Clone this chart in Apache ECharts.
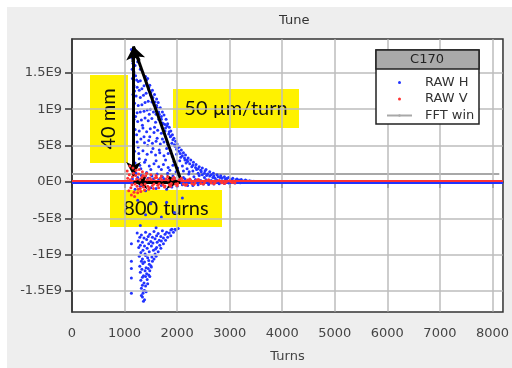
<!DOCTYPE html>
<html>
<head>
<meta charset="utf-8">
<script src="https://cdn.jsdelivr.net/npm/echarts@6/dist/echarts.min.js"></script>
<style>
  html, body { margin: 0; padding: 0; background: #fff; }
  #chart { width: 512px; height: 368px; }
</style>
</head>
<body>
<div id="chart"></div>
<script>
// x ticks (turns) and y ticks with the labels as printed on the plot
const xTicks = [0, 1000, 2000, 3000, 4000, 5000, 6000, 7000, 8000];
const yTicks = [-1.5e9, -1e9, -5e8, 0, 5e8, 1e9, 1.5e9];
const yTickLabels = ['-1.5E9', '-1E9', '-5E8', '0E0', '5E8', '1E9', '1.5E9'];
const xRange = [0, 8200];
const yRange = [-1.787e9, 1.964e9];

// RAW H samples [turn, value in units of 1E8]
const rawH = [
    // upper cloud
    [1130,18.2],[1140,17.6],[1150,17.0],[1160,16.3],[1145,15.5],[1170,15.8],[1190,15.0],[1210,14.6],
    [1150,14.2],[1230,14.0],[1260,13.8],[1300,13.9],[1180,13.2],[1240,13.0],[1280,12.6],[1330,12.8],
    [1370,13.2],[1420,13.5],[1160,12.0],[1220,11.8],[1300,11.6],[1360,11.9],[1410,12.2],[1460,12.7],
    [1500,11.9],[1190,10.8],[1260,10.5],[1330,10.6],[1390,10.9],[1450,11.1],[1520,11.0],[1560,10.6],
    [1610,10.5],[1170,9.8],[1240,9.5],[1300,9.6],[1370,9.7],[1430,9.9],[1490,10.0],[1550,9.6],
    [1600,9.3],[1650,9.6],[1700,9.0],
    [1180,8.6],[1250,8.3],[1320,8.5],[1390,8.8],[1450,8.4],[1520,8.7],[1590,8.2],[1650,8.6],[1720,8.1],[1770,7.9],
    [1200,7.2],[1280,7.0],[1350,7.4],[1420,6.9],[1490,7.3],[1560,6.8],[1630,7.1],[1700,6.7],[1770,7.0],[1840,6.6],[1880,6.3],
    [1170,5.8],[1240,5.5],[1310,5.9],[1380,5.4],[1460,5.7],[1530,5.3],[1600,5.6],[1680,5.2],[1750,5.5],[1820,5.1],
    [1900,5.3],[1960,4.9],[2010,4.7],
    [1190,4.2],[1270,3.9],[1350,4.3],[1430,3.8],[1510,4.1],[1590,3.7],[1670,4.0],[1750,3.6],[1830,3.9],[1910,3.5],
    [1990,3.8],[2070,3.4],[2140,3.3],[2190,3.0],
    [1200,2.6],[1290,2.3],[1380,2.7],[1470,2.2],[1560,2.5],[1650,2.1],[1740,2.4],[1830,2.0],[1920,2.3],[2010,1.9],
    [2100,2.2],[2190,1.8],[2280,2.1],[2370,1.7],[2450,1.6],[2530,1.5],
    [1220,1.2],[1320,0.9],[1420,1.3],[1520,0.8],[1620,1.1],[1720,0.7],[1820,1.2],[1920,0.8],[2020,1.0],[2120,0.6],
    [2220,1.1],[2320,0.7],[2420,0.9],[2520,0.6],[2620,0.8],[2720,0.5],[2820,0.6],[2920,0.4],[3020,0.35],[3120,0.3],
    [3220,0.2],[3320,0.15],[3420,0.1],
    // dense band along the decaying edge
    [1250,16.5],[1300,15.5],[1350,15.0],[1400,14.5],[1440,14.2],[1480,13.3],[1530,12.6],[1570,12.0],[1610,11.4],
    [1640,10.9],[1680,10.2],[1720,9.6],[1750,9.2],[1790,8.6],[1820,8.0],[1850,7.5],[1880,7.0],[1910,6.5],[1940,6.0],
    [1970,5.6],[2000,5.2],[2040,4.8],[2080,4.4],[2120,4.0],[2160,3.7],[2210,3.3],[2260,3.0],[2310,2.7],[2360,2.4],
    [2420,2.1],[2480,1.9],[2550,1.7],[2620,1.4],[2690,1.2],[2760,1.0],[2830,0.85],[2900,0.7],[2980,0.6],[3060,0.5],
    [3140,0.4],[3220,0.32],[3300,0.25],[3380,0.18],[3460,0.1],
    [1420,14.0],[1460,13.0],[1500,12.3],[1540,11.6],[1580,11.0],[1620,10.2],[1660,9.3],[1700,8.6],[1740,8.0],
    [1780,7.4],[1810,7.7],[1850,6.9],[1870,6.2],[1920,5.8],[1950,5.1],[1990,4.5],[2030,4.2],[2060,3.9],[2100,3.6],
    [2150,3.0],[2200,2.8],[2240,2.5],[2300,2.3],[2350,2.0],[2400,1.8],[2460,1.4],[2520,1.2],[2580,1.1],[2650,1.0],
    [2700,0.8],[2780,0.7],[2860,0.55],[2950,0.5],[3040,0.3],[3180,0.25],[3260,0.12],[3350,0.08],
    // low band just above zero
    [1150,0.4],[1250,0.6],[1350,0.3],[1450,0.5],[1550,0.4],[1650,0.3],[1750,0.45],[1850,0.3],[1950,0.5],[2050,0.25],
    [2150,0.4],[2250,0.3],[2350,0.35],[2450,0.2],[2550,0.3],[2650,0.2],[2750,0.25],[2850,0.15],[2950,0.2],[3050,0.12],
    [3150,0.1],[3250,0.05],[3350,0.05],[3450,0.04],[3550,0.03],
    // scattered inside the wedge
    [1200,16.0],[1190,12.5],[1210,9.0],[1230,6.5],[1260,4.8],[1280,3.2],[1310,1.8],[1340,7.8],[1370,6.2],[1400,3.0],
    [1440,5.0],[1470,9.3],[1480,6.2],[1500,1.7],[1540,4.6],[1570,7.5],[1600,2.9],[1620,6.0],[1660,4.4],[1700,1.7],
    [1720,5.9],[1780,3.0],[1800,4.6],[1860,1.6],[1880,4.3],[1940,2.8],[1980,1.4],[2050,2.9],[2120,1.5],[2170,2.6],
    [2230,1.4],[2300,1.5],[2400,1.2],[2480,1.0],[2560,0.9],[2680,0.6],
    // just below zero
    [1300,-0.6],[1500,-0.8],[1700,-0.5],[1900,-0.7],[2100,-0.4],[2300,-0.5],[2500,-0.3],[2700,-0.3],[2900,-0.2],[3100,-0.15],
    [1200,-1.0],[1400,-1.2],[1600,-0.9],[1800,-1.0],[2000,-0.6],[2200,-0.5],[2400,-0.4],[2600,-0.35],[2800,-0.25],
    [3000,-0.2],[3200,-0.1],[3350,-0.06],
    // lower cloud
    [1250,-2.5],[1500,-3.0],[1800,-2.8],[2100,-2.2],[1400,-4.5],[1700,-4.8],[1950,-4.2],[1300,-6.0],[1600,-6.3],[1900,-6.5],
    [1240,-7.0],[1320,-7.3],[1400,-6.9],[1480,-7.2],[1560,-6.8],[1640,-7.1],[1720,-6.7],[1800,-6.9],[1880,-6.6],[1960,-6.5],[2020,-6.4],
    [1290,-7.6],[1370,-7.7],[1450,-7.5],[1530,-7.6],[1610,-7.4],[1690,-7.5],[1770,-7.2],[1850,-7.0],[1930,-6.9],[1980,-6.6],
    [1260,-8.1],[1340,-8.3],[1420,-7.9],[1500,-8.2],[1580,-7.8],[1660,-8.0],[1740,-7.7],[1820,-7.6],[1880,-7.4],
    [1300,-8.7],[1380,-8.8],[1460,-8.5],[1540,-8.4],[1620,-8.3],[1700,-8.1],[1780,-8.0],
    [1130,-8.5],[1270,-9.0],[1350,-9.4],[1430,-9.1],[1510,-8.8],[1590,-9.2],[1670,-8.7],[1740,-8.5],
    [1310,-9.7],[1390,-9.9],[1470,-9.6],[1550,-9.4],[1610,-9.0],[1690,-9.1],
    [1280,-10.2],[1340,-10.6],[1400,-10.1],[1460,-10.8],[1520,-10.3],[1580,-9.9],[1640,-9.6],
    [1320,-10.9],[1380,-11.0],[1440,-10.4],[1500,-11.5],[1560,-10.6],[1600,-10.2],
    [1130,-10.9],[1290,-11.6],[1350,-11.2],[1410,-11.8],[1470,-11.3],[1530,-10.9],[1130,-11.9],
    [1330,-12.0],[1390,-12.2],[1450,-11.9],[1510,-11.7],
    [1300,-12.4],[1360,-12.9],[1420,-12.6],[1480,-12.2],
    [1340,-13.1],[1400,-13.0],[1460,-12.8],[1480,-13.0],
    [1130,-13.2],[1310,-13.5],[1370,-13.9],[1430,-13.4],
    [1340,-14.2],[1400,-14.3],[1440,-14.0],
    [1320,-14.6],[1380,-14.9],[1350,-15.3],
    [1360,-15.0],[1410,-15.1],[1320,-15.6],[1360,-16.4],
    [1130,-15.3],[1340,-15.8],[1380,-16.2]
];

// RAW V samples [turn, value in units of 1E8]
const rawV = [
    [1050,1.5],[1080,-1.2],[1100,2.2],[1130,-1.8],[1160,1.9],[1190,-2.0],[1220,1.6],[1250,-1.5],[1280,1.7],
    [1310,-1.3],[1340,1.4],[1380,-1.1],[1420,1.2],[1460,-1.0],[1500,1.0],[1550,-0.9],[1600,0.9],[1650,-0.8],
    [1700,0.8],[1760,-0.7],[1820,0.7],[1880,-0.6],[1940,0.6],[2000,-0.5],[2080,0.5],[2160,-0.45],[2240,0.4],
    [2320,-0.35],[2400,0.35],[2500,-0.3],[2600,0.3],[2700,-0.25],[2800,0.2],[2900,-0.2],[3000,0.15],[3100,-0.1],
    [1060,0.5],[1090,1.0],[1120,-0.8],[1150,0.7],[1180,-1.4],[1210,0.9],[1240,-0.6],[1270,1.1],[1300,-0.9],
    [1330,0.6],[1360,-0.7],[1400,0.8],[1440,-0.6],[1480,0.5],[1530,-0.5],[1580,0.55],[1630,-0.45],[1680,0.5],
    [1730,-0.4],[1790,0.4],[1850,-0.4],[1910,0.35],[1970,-0.3],[2040,0.3],[2120,-0.3],[2200,0.25],[2280,-0.2],
    [2360,0.2],[2450,-0.2],[2550,0.15],[2650,-0.15],[2750,0.12],[2850,-0.1],[2950,0.08],[3050,-0.06],
    [1110,0.3],[1140,-0.4],[1170,1.2],[1200,-0.3],[1230,0.4],[1260,-1.0],[1290,0.3],[1320,-0.4],[1350,0.9],
    [1390,-0.3],[1430,0.3],[1470,-0.8],[1510,0.3],[1560,-0.3],[1610,0.6],[1660,-0.25],[1710,0.25],[1770,-0.55],
    [1830,0.25],[1890,-0.2],[1950,0.45],[2010,-0.2],[2100,0.2],[2180,-0.35],[2260,0.15],[2340,-0.15],[2420,0.25],
    [2520,-0.1],[2620,0.1],[2720,-0.12],[2820,0.08],[2920,-0.08],[3020,0.05]
];

// flat offset of each raw trace over the whole record, and the FFT window level
const rawHFloor = -1.5e7;
const rawVFloor = 1.2e7;
const fftWin = [[0, 1.1e8], [8130, 1.1e8]];

// annotation arrows drawn on the slide, in data coordinates
const arrowVert = [[1170, 0.8e8], [1170, 1.86e9]];
const arrowDiag = [[2060, 0.05e9], [1170, 1.86e9]];
const arrowHorz = [[1170, 0], [2060, 0]];

const E8 = 1e8;
const axisFont = { fontFamily: 'DejaVu Sans', fontSize: 13, color: '#444' };

function yLabel(v) {
    const i = yTicks.findIndex(t => Math.abs(t - v) < 1);
    return i >= 0 ? yTickLabels[i] : '';
}

function yellowBox(x, y, w, h, text, rotate) {
    return {
        type: 'group',
        z: 100,
        children: [
            { type: 'rect', shape: { x: x, y: y, width: w, height: h }, style: { fill: '#fff200' } },
            {
                type: 'text',
                x: x + w / 2, y: y + h / 2,
                rotation: rotate ? Math.PI / 2 : 0,
                style: {
                    text: text, fill: '#111', font: '20px Lato',
                    align: 'center', verticalAlign: 'middle'
                }
            }
        ]
    };
}

// grid lines at each tick, as coordinate pairs just inside the plot edges
// (end points exactly on the edge get dropped by the marker filter)
const gridLines = xTicks.slice(1).map(v => [{ coord: [v, -1.78e9] }, { coord: [v, 1.96e9] }])
    .concat(yTicks.map(v => [{ coord: [5, v] }, { coord: [8195, v] }]));

const chart = echarts.init(document.getElementById('chart'), null, { renderer: 'canvas' });

chart.setOption({
    backgroundColor: '#ffffff',
    animation: false,
    title: {
        text: 'Tune',
        left: 274, top: 9,
        textStyle: { fontFamily: 'DejaVu Sans', fontSize: 13, fontWeight: 'normal', color: '#333' }
    },
    grid: {
        left: 72, right: 6, top: 39, bottom: 54,
        show: true, backgroundColor: '#ffffff', borderColor: '#333', borderWidth: 1.5
    },
    legend: {
        data: [
            { name: 'RAW H', icon: 'circle' },
            { name: 'RAW V', icon: 'circle' },
            { name: 'FFT win' }
        ],
        z: 60,
        orient: 'vertical',
        left: 381, top: 71,
        itemWidth: 25, itemHeight: 3, itemGap: 3.5,
        textStyle: { fontFamily: 'DejaVu Sans', fontSize: 13, color: '#333', padding: [0, 0, 0, 8] },
        selectedMode: false
    },
    xAxis: {
        type: 'value', min: xRange[0], max: xRange[1],
        name: 'Turns', nameLocation: 'middle', nameGap: 38,
        nameTextStyle: axisFont,
        axisLine: { lineStyle: { color: '#333', width: 1.5 } },
        axisTick: { length: 6, customValues: xTicks, lineStyle: { color: '#333', width: 1.5 } },
        axisLabel: Object.assign({ margin: 15, customValues: xTicks, formatter: v => String(v) }, axisFont),
        splitLine: { show: false }
    },
    yAxis: {
        type: 'value', min: yRange[0], max: yRange[1],
        axisLine: { show: true, lineStyle: { color: '#333', width: 1.5 } },
        axisTick: { show: true, length: 7, customValues: yTicks, lineStyle: { color: '#333', width: 1.5 } },
        axisLabel: Object.assign({ margin: 10, customValues: yTicks, formatter: yLabel }, axisFont),
        splitLine: { show: false }
    },
    graphic: [
        { type: 'rect', z: -10, silent: true, shape: { x: 7, y: 7, width: 505, height: 361 }, style: { fill: '#eeeeee' } },
        // legend frame and its header
        { type: 'rect', z: 50, shape: { x: 376, y: 50, width: 103, height: 74 }, style: { fill: '#ffffff', stroke: '#222', lineWidth: 1.5 } },
        { type: 'rect', z: 51, shape: { x: 376, y: 50, width: 103, height: 19 }, style: { fill: '#aaaaaa', stroke: '#222', lineWidth: 1.5 } },
        { type: 'text', z: 52, x: 427, y: 60, style: { text: 'C170', font: '13px "DejaVu Sans"', fill: '#222', align: 'center', verticalAlign: 'middle' } },
        yellowBox(90, 75, 38, 88, '40 mm', true),
        yellowBox(173, 89, 126, 39, '50 µm/turn', false),
        yellowBox(110, 190, 112, 37, '800 turns', false)
    ],
    series: [
        {
            name: 'gridlines', type: 'line', z: 3, data: [],
            markLine: {
                silent: true, label: { show: false }, symbol: 'none',
                lineStyle: { color: '#bdbdbd', width: 1.5, type: 'solid' },
                data: gridLines.map(p => [
                    { coord: p[0].coord, symbol: 'none' },
                    { coord: p[1].coord, symbol: 'none' }
                ])
            }
        },
        {
            name: 'FFT win', type: 'line', z: 3,
            data: fftWin, symbol: 'none',
            lineStyle: { color: '#a8a8a8', width: 2 }, itemStyle: { color: '#a8a8a8' }
        },
        {
            name: 'RAW H', type: 'scatter', z: 4,
            data: rawH.map(d => [d[0], d[1] * E8]),
            symbolSize: 3, itemStyle: { color: '#2233ff', opacity: 1 },
            markLine: {
                silent: true, symbol: 'none', label: { show: false },
                lineStyle: { color: '#2233ff', width: 2, type: 'solid' },
                data: [{ yAxis: rawHFloor }]
            }
        },
        {
            name: 'RAW V', type: 'scatter', z: 5,
            data: rawV.map(d => [d[0], d[1] * E8]),
            symbolSize: 3, itemStyle: { color: '#ff3333', opacity: 1 },
            markLine: {
                silent: true, symbol: 'none', label: { show: false },
                lineStyle: { color: '#ff3333', width: 2, type: 'solid' },
                data: [{ yAxis: rawVFloor }]
            }
        },
        {
            name: 'arrows', type: 'line', z: 20, data: [],
            markLine: {
                silent: true, label: { show: false }, symbolSize: [11, 14],
                lineStyle: { color: '#000', width: 3, type: 'solid' },
                data: [
                    [{ coord: arrowVert[0], symbol: 'arrow' }, { coord: arrowVert[1], symbol: 'arrow' }],
                    [{ coord: arrowDiag[0], symbol: 'none' }, { coord: arrowDiag[1], symbol: 'arrow' }],
                    [{ coord: arrowHorz[0], symbol: 'arrow' }, { coord: arrowHorz[1], symbol: 'arrow' }]
                ]
            }
        }
    ]
});
</script>
</body>
</html>
